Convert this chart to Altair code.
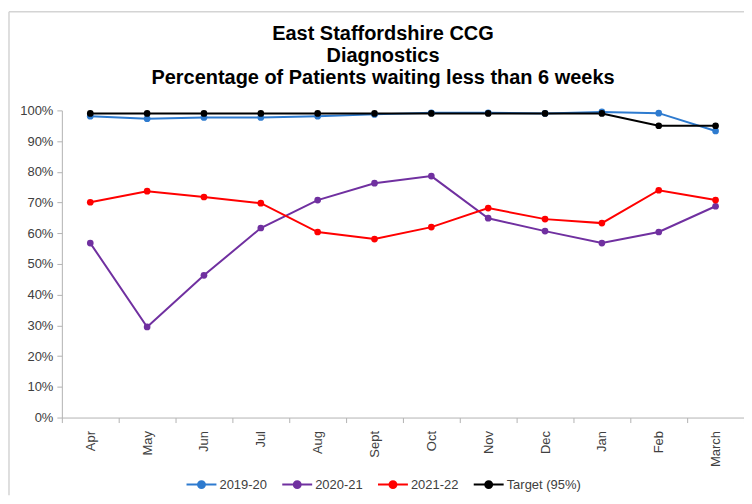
import altair as alt
import pandas as pd

months = ["Apr", "May", "Jun", "Jul", "Aug", "Sept", "Oct", "Nov", "Dec", "Jan", "Feb", "March"]
series_names = ["2019-20", "2020-21", "2021-22", "Target (95%)"]
colors = ["#2E7BCF", "#7030A0", "#FF0000", "#000000"]

v2019 = [98.1, 97.3, 97.7, 97.7, 98.1, 98.7, 99.2, 99.2, 99.0, 99.5, 99.1, 93.3]
v2020 = [56.8, 29.5, 46.3, 61.7, 70.8, 76.3, 78.6, 64.9, 60.7, 56.8, 60.4, 68.8]
v2021 = [70.1, 73.7, 71.8, 69.8, 60.4, 58.1, 62.0, 68.2, 64.6, 63.3, 74.0, 70.8]
target = [99, 99, 99, 99, 99, 99, 99, 99, 99, 99, 95, 95]

rows = []
for name, vals in zip(series_names, [v2019, v2020, v2021, target]):
    for m, v in zip(months, vals):
        rows.append({"Month": m, "Series": name, "Value": v / 100})
df = pd.DataFrame(rows)

legend_path = "M-1.5,0H1.5M-0.35,0A0.35,0.35 0 1,0 0.35,0A0.35,0.35 0 1,0 -0.35,0Z"

# chart-area frame edges (decoration): top and left
one = pd.DataFrame({"k": [0]})
frame_top = alt.Chart(one).mark_rule(stroke="#D4D4D4", strokeWidth=1.5).encode(
    x=alt.value(-53), x2=alt.value(684), y=alt.value(-99)
)
frame_left = alt.Chart(one).mark_rule(stroke="#D4D4D4", strokeWidth=1.5).encode(
    x=alt.value(-53), y=alt.value(-99), y2=alt.value(386)
)

lines = alt.Chart(df).mark_line(
    strokeWidth=2,
    point=alt.OverlayMarkDef(filled=True, size=45, opacity=1),
).encode(
    x=alt.X("Month:N", sort=months, title=None,
            scale=alt.Scale(paddingInner=0, paddingOuter=0),
            axis=alt.Axis(labelAngle=-90, tickBand="extent", tickSize=5,
                          labelPadding=8, labelFontSize=13, labelColor="#404040",
                          domainColor="#B3B3B3", tickColor="#B3B3B3", labelFont="Liberation Sans")),
    y=alt.Y("Value:Q", title=None,
            scale=alt.Scale(domain=[0, 1], nice=False),
            axis=alt.Axis(format=".0%", values=[i / 10 for i in range(11)], grid=False,
                          tickSize=5, labelPadding=4, labelFontSize=13, labelColor="#404040",
                          domainColor="#B3B3B3", tickColor="#B3B3B3", labelFont="Liberation Sans")),
    color=alt.Color("Series:N", sort=series_names,
                    scale=alt.Scale(domain=series_names, range=colors),
                    legend=alt.Legend(title=None, orient="none", legendX=129, legendY=364,
                                      direction="horizontal", columns=4, columnPadding=11,
                                      symbolType=legend_path, symbolSize=400, symbolStrokeWidth=2,
                                      labelFontSize=13, labelColor="#404040",
                                      labelFont="Liberation Sans", labelOffset=7)),
    order=alt.Order("Series:N"),
)

chart = alt.layer(frame_top, frame_left, lines).properties(
    width=684,
    height=308,
    title=alt.Title(
        ["East Staffordshire CCG", "Diagnostics", "Percentage of Patients waiting less than 6 weeks"],
        anchor="middle", dx=-20, dy=95, offset=18, fontSize=20, font="Liberation Sans",
        fontWeight="bold", color="#000000", lineHeight=22,
    ),
    autosize=alt.AutoSizeParams(type="none"),
    padding={"left": 54, "top": 102, "right": 0, "bottom": 78},
).configure_view(stroke=None)

chart.save("out.html", embed_options={"renderer": "svg", "actions": False})
